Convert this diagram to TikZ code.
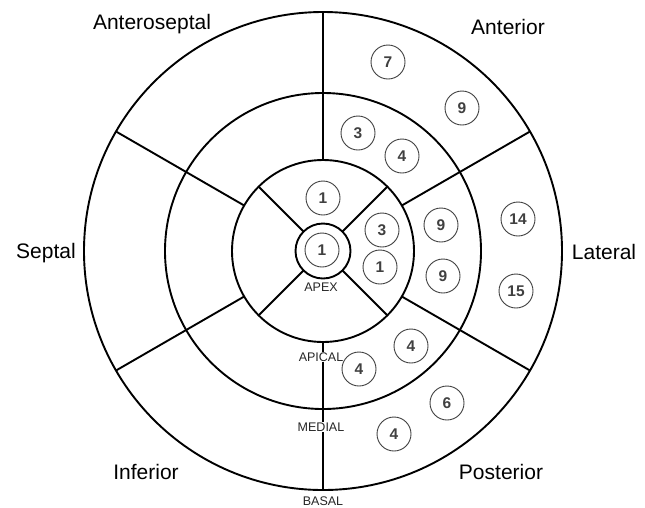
\documentclass[tikz,border=0pt]{standalone}
\usepackage{fontspec}
\setmainfont{Liberation Sans}
\usetikzlibrary{calc}
\begin{document}
\begin{tikzpicture}[x=1pt,y=-1pt,
  ring/.style={line width=1.9pt, draw=black},
  num/.style={circle, draw=black!75, line width=0.9pt, minimum size=34pt, inner sep=0pt, text=black!75, font=\fontsize{15.5}{15.5}\selectfont\bfseries},
  region/.style={inner sep=0pt, font=\fontsize{21}{25}\selectfont},
  level/.style={fill=white, inner sep=1pt, text=black!85, font=\fontsize{12.5}{13}\selectfont}]
\useasboundingbox[fill=white] (0,0) rectangle (645,507);
\coordinate (c) at (323,251);
% rings
\draw[ring] (c) circle[radius=239];
\draw[ring] (c) circle[radius=158];
\draw[ring] (c) circle[radius=91];
\draw[ring] (c) circle[radius=27.5];
% radial lines of basal and medial rings
\foreach \a in {90,30,-30,-90,150,210}
  \draw[ring] ($(c)+(\a:91)$) -- ($(c)+(\a:239)$);
% radial lines of apical ring
\foreach \a in {45,135,225,315}
  \draw[ring] ($(c)+(\a:27.5)$) -- ($(c)+(\a:91)$);
% level labels
\node[level] (apex) at (321,287) {APEX};
\node[level] (apical) at (321,357) {APICAL};
\node[level] (medial) at (321,427) {MEDIAL};
\node[level] (basal) at (323,501) {BASAL};
% region labels
\node[region] (anteroseptal) at (152,24) {Anteroseptal};
\node[region] (anterior) at (508,27) {Anterior};
\node[region] (septal) at (46,253) {Septal};
\node[region] (lateral) at (604,252) {Lateral};
\node[region] (inferior) at (146,472) {Inferior};
\node[region] (posterior) at (501,472) {Posterior};
% counts
\node[num] (n1) at (322,250) {1};
\node[num] (n2) at (323,198) {1};
\node[num] (n3) at (382,230) {3};
\node[num] (n4) at (380,267) {1};
\node[num] (n5) at (388,62) {7};
\node[num] (n6) at (462,108) {9};
\node[num] (n7) at (358,133) {3};
\node[num] (n8) at (402,156) {4};
\node[num] (n9) at (441,225) {9};
\node[num] (n10) at (443,276) {9};
\node[num] (n11) at (518,219) {14};
\node[num] (n12) at (516,291) {15};
\node[num] (n13) at (411,346) {4};
\node[num] (n14) at (359,369) {4};
\node[num] (n15) at (447,403) {6};
\node[num] (n16) at (394,434) {4};
\end{tikzpicture}
\end{document}
